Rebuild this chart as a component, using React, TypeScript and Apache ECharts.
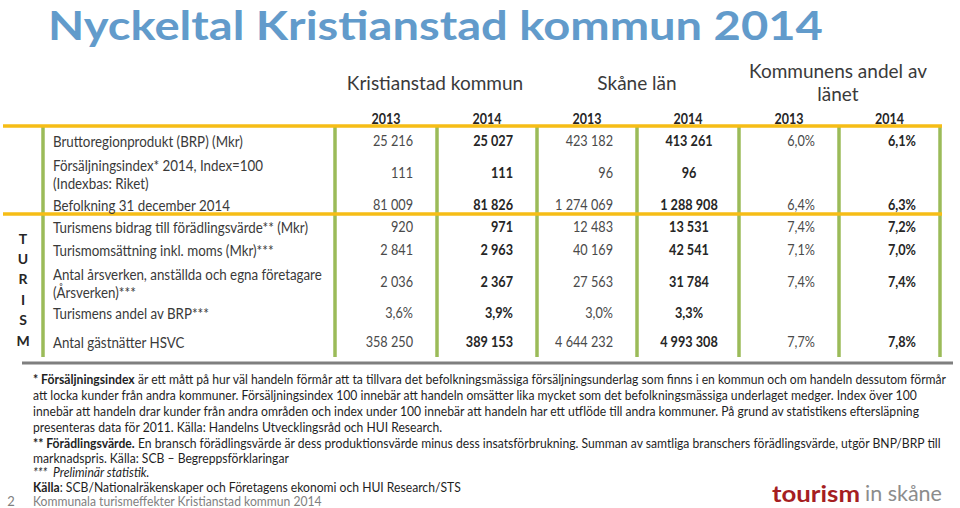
import React, { useEffect, useRef } from "react";
import * as echarts from "echarts";

const title = "Nyckeltal Kristianstad kommun 2014";
const groupHeaders = ["Kristianstad kommun", "Skåne län", "Kommunens andel av\nlänet"];
const years = ["2013", "2014", "2013", "2014", "2013", "2014"];
const rowLabels = [
  "Bruttoregionprodukt (BRP) (Mkr)",
  "Försäljningsindex* 2014, Index=100\n(Indexbas: Riket)",
  "Befolkning 31 december 2014",
  "Turismens bidrag till förädlingsvärde** (Mkr)",
  "Turismomsättning inkl. moms (Mkr)***",
  "Antal årsverken, anställda och egna företagare\n(Årsverken)***",
  "Turismens andel av BRP***",
  "Antal gästnätter HSVC",
];
const kristianstad2013 = ["25 216", "111", "81 009", "920", "2 841", "2 036", "3,6%", "358 250"];
const kristianstad2014 = ["25 027", "111", "81 826", "971", "2 963", "2 367", "3,9%", "389 153"];
const skane2013 = ["423 182", "96", "1 274 069", "12 483", "40 169", "27 563", "3,0%", "4 644 232"];
const skane2014 = ["413 261", "96", "1 288 908", "13 531", "42 541", "31 784", "3,3%", "4 993 308"];
const share2013 = ["6,0%", "", "6,4%", "7,4%", "7,1%", "7,4%", "", "7,7%"];
const share2014 = ["6,1%", "", "6,3%", "7,2%", "7,0%", "7,4%", "", "7,8%"];
const sideLetters = ["T", "U", "R", "I", "S", "M"];
const noteBoldLead = "* Försäljningsindex";
const noteLine1Rest =
  " är ett mått på hur väl handeln förmår att ta tillvara det befolkningsmässiga försäljningsunderlag som finns i en kommun och om handeln dessutom förmår";
const footnotes = [
  `{b|${noteBoldLead}}${noteLine1Rest}`,
  "att locka kunder från andra kommuner. Försäljningsindex 100 innebär att handeln omsätter lika mycket som det befolkningsmässiga underlaget medger. Index över 100",
  "innebär att handeln drar kunder från andra områden och index under 100 innebär att handeln har ett utflöde till andra kommuner. På grund av statistikens eftersläpning",
  "presenteras data för 2011. Källa: Handelns Utvecklingsråd och HUI Research.",
  "{b|** Förädlingsvärde.} En bransch förädlingsvärde är dess produktionsvärde minus dess insatsförbrukning. Summan av samtliga branschers förädlingsvärde, utgör BNP/BRP till",
  "marknadspris. Källa: SCB – Begreppsförklaringar",
  "{i|***  Preliminär statistik.}",
  "{b|Källa}: SCB/Nationalräkenskaper och Företagens ekonomi och HUI Research/STS",
];
const pageNumber = "2";
const footerText = "Kommunala turismeffekter Kristianstad kommun 2014";
const logoMain = "tourism";
const logoSub = "in skåne";

const FAM = "Lato, 'Noto Sans', sans-serif";

function measure(font: string, s: string): number {
  const c = document.createElement("canvas").getContext("2d");
  if (!c) return s.length * 7;
  c.font = font;
  return c.measureText(s).width;
}

export default function App() {
  const ref = useRef<HTMLDivElement>(null);
  useEffect(() => {
    if (!ref.current) return;
    const chart = echarts.init(ref.current, undefined, { renderer: "svg" });

    const colEdges = [335, 437, 537, 637, 739, 839, 940];
    const rowY = [141, 173, 205, 227, 250, 282, 313, 342];
    const columns = [
      { data: kristianstad2013, bold: false, mode: "right" },
      { data: kristianstad2014, bold: true, mode: "right" },
      { data: skane2013, bold: false, mode: "right" },
      { data: skane2014, bold: true, mode: "center" },
      { data: share2013, bold: false, mode: "right" },
      { data: share2014, bold: true, mode: "right" },
    ];

    // horizontal fit factors (Calibri in the original is narrower than Lato)
    const titleSize = 40;
    const titleScale = 775 / measure(`bold ${titleSize}px ${FAM}`, title);
    const labelSize = 14.5;
    const labelScale = 269 / measure(`${labelSize}px ${FAM}`, "Antal årsverken, anställda och egna företagare");
    const valueSize = 14.5;
    const valueScale = 58 / measure(`${valueSize}px ${FAM}`, "1 274 069");
    const yearScale = 29 / measure(`bold ${valueSize}px ${FAM}`, "2013");
    const noteSize = 13.5;
    const noteScale =
      915 /
      (measure(`bold ${noteSize}px ${FAM}`, noteBoldLead) + measure(`${noteSize}px ${FAM}`, noteLine1Rest));
    const logoScaleMain = 88 / measure(`bold 23px ${FAM}`, logoMain);
    const logoScaleSub = 77 / measure(`22px ${FAM}`, logoSub);

    const els: any[] = [];
    const text = (x: number, y: number, t: string, opts: any = {}) => {
      const fs = opts.fontSize || 14.5;
      els.push({
        type: "text",
        x,
        y,
        scaleX: opts.scaleX || 1,
        silent: true,
        style: {
          text: t,
          fill: opts.fill || "#404040",
          fontSize: fs,
          fontFamily: FAM,
          fontWeight: opts.fontWeight || "normal",
          fontStyle: opts.fontStyle || "normal",
          textAlign: opts.align || "left",
          textVerticalAlign: "middle",
          lineHeight: opts.lineHeight || Math.round(fs * 1.05),
          rich: opts.rich,
        },
      });
    };

    // title
    text(48, 24, title, {
      fill: "#629BCB",
      fontSize: titleSize,
      fontWeight: "bold",
      scaleX: titleScale,
      lineHeight: 40,
    });

    // group headers
    const groupCenters = [435, 637, 838];
    groupHeaders.forEach((h, i) => {
      const multi = h.includes("\n");
      text(groupCenters[i], multi ? 81.5 : 82, h, {
        fill: "#3A3A3A",
        fontSize: 19,
        align: "center",
        lineHeight: 23,
      });
    });

    // year headers
    years.forEach((y, i) => {
      text((colEdges[i] + colEdges[i + 1]) / 2, 119, y, {
        fill: "#262626",
        fontSize: valueSize,
        fontWeight: "bold",
        align: "center",
        scaleX: yearScale,
      });
    });

    // green vertical lines
    const lineX = [43, ...colEdges];
    lineX.forEach((x) => {
      els.push({
        type: "line",
        silent: true,
        shape: { x1: x, y1: 127, x2: x, y2: 357 },
        style: { stroke: "#9BBB59", lineWidth: 3.5 },
      });
    });

    // yellow lines
    [126, 214].forEach((y) => {
      els.push({
        type: "line",
        silent: true,
        shape: { x1: 3, y1: y, x2: 942, y2: y },
        style: { stroke: "#F6BD16", lineWidth: 3.5 },
      });
    });

    // gray separator
    els.push({
      type: "line",
      silent: true,
      shape: { x1: 22, y1: 363, x2: 953, y2: 363 },
      style: { stroke: "#7F7F7F", lineWidth: 3 },
    });

    // row labels
    rowLabels.forEach((l, i) => {
      const multi = l.includes("\n");
      text(53, rowY[i] + (multi ? 1.5 : 0), l, {
        fill: "#3A3A3A",
        fontSize: labelSize,
        lineHeight: 18,
        scaleX: labelScale,
      });
    });

    // values
    columns.forEach((c, ci) => {
      c.data.forEach((v, ri) => {
        if (!v) return;
        const x =
          c.mode === "center"
            ? (colEdges[ci] + colEdges[ci + 1]) / 2 + 1
            : colEdges[ci + 1] - 24;
        text(x, rowY[ri], v, {
          fill: c.bold ? "#262626" : "#4A4A4A",
          fontSize: valueSize,
          fontWeight: c.bold ? "bold" : "normal",
          align: c.mode === "center" ? "center" : "right",
          scaleX: valueScale,
        });
      });
    });

    // side letters
    sideLetters.forEach((s, i) => {
      text(23, 238 + i * 20.4, s, {
        fill: "#262626",
        fontSize: 14,
        fontWeight: "bold",
        align: "center",
      });
    });

    // footnotes
    const noteY = [379, 395, 411, 427, 443, 458, 472, 487];
    const rich = {
      b: { fontWeight: "bold", fontSize: noteSize, fontFamily: FAM, fill: "#1F1F1F" },
      i: { fontStyle: "italic", fontSize: noteSize, fontFamily: FAM, fill: "#1F1F1F" },
    };
    footnotes.forEach((n, i) => {
      text(33, noteY[i], n, {
        fill: "#1F1F1F",
        fontSize: noteSize,
        rich,
        scaleX: noteScale,
        lineHeight: 13,
      });
    });

    // footer
    text(11, 500.5, pageNumber, { fill: "#7F7F7F", fontSize: 13, align: "center", lineHeight: 12 });
    text(33, 500.5, footerText, { fill: "#7F7F7F", fontSize: noteSize, scaleX: noteScale, lineHeight: 12 });

    // logo
    text(772, 493, logoMain, {
      fill: "#A51E22",
      fontSize: 23,
      fontWeight: "bold",
      scaleX: logoScaleMain,
    });
    text(865, 493, logoSub, { fill: "#8C8C8C", fontSize: 22, scaleX: logoScaleSub });

    chart.setOption({
      animation: false,
      backgroundColor: "#ffffff",
      graphic: { elements: els },
    });

    return () => chart.dispose();
  }, []);

  return (
    <div
      ref={ref}
      style={{ position: "fixed", left: 0, top: 0, width: 960, height: 508, background: "#fff" }}
    />
  );
}
